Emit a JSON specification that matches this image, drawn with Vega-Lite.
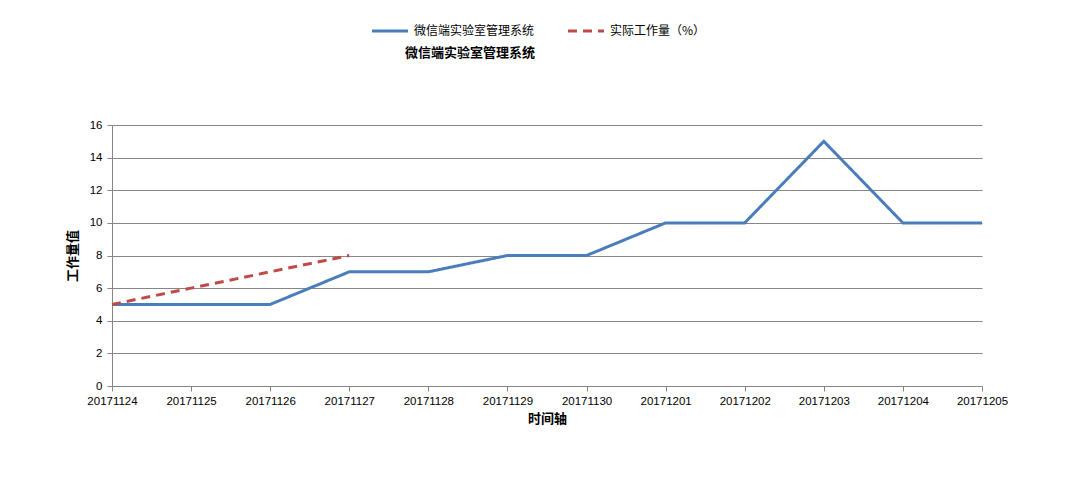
{
  "$schema": "https://vega.github.io/schema/vega-lite/v6.json",
  "autosize": {"type": "none"},
  "width": 870,
  "height": 261,
  "padding": {"left": 112, "top": 125, "right": 95, "bottom": 105},
  "background": "white",
  "title": {
    "text": "微信端实验室管理系统",
    "font": "Noto Sans CJK SC",
    "fontSize": 13,
    "fontWeight": "bold",
    "color": "#000000",
    "anchor": "middle",
    "dx": -77,
    "offset": -49
  },
  "data": {
    "values": [
      {"date": "20171124", "series": "微信端实验室管理系统", "value": 5},
      {"date": "20171125", "series": "微信端实验室管理系统", "value": 5},
      {"date": "20171126", "series": "微信端实验室管理系统", "value": 5},
      {"date": "20171127", "series": "微信端实验室管理系统", "value": 7},
      {"date": "20171128", "series": "微信端实验室管理系统", "value": 7},
      {"date": "20171129", "series": "微信端实验室管理系统", "value": 8},
      {"date": "20171130", "series": "微信端实验室管理系统", "value": 8},
      {"date": "20171201", "series": "微信端实验室管理系统", "value": 10},
      {"date": "20171202", "series": "微信端实验室管理系统", "value": 10},
      {"date": "20171203", "series": "微信端实验室管理系统", "value": 15},
      {"date": "20171204", "series": "微信端实验室管理系统", "value": 10},
      {"date": "20171205", "series": "微信端实验室管理系统", "value": 10},
      {"date": "20171124", "series": "实际工作量（%）", "value": 5},
      {"date": "20171125", "series": "实际工作量（%）", "value": 6},
      {"date": "20171126", "series": "实际工作量（%）", "value": 7},
      {"date": "20171127", "series": "实际工作量（%）", "value": 8}
    ]
  },
  "mark": {"type": "line", "strokeWidth": 3, "strokeCap": "butt"},
  "encoding": {
    "x": {
      "field": "date",
      "type": "ordinal",
      "scale": {"type": "point", "padding": 0},
      "axis": {
        "title": "时间轴",
        "titleFont": "Noto Sans CJK SC",
        "titleFontSize": 13,
        "titleFontWeight": "bold",
        "titleColor": "#000000",
        "titlePadding": 6,
        "labelAngle": 0,
        "labelFont": "Liberation Sans",
        "labelFontSize": 11.5,
        "labelColor": "#000000",
        "labelPadding": 4,
        "domainColor": "#868686",
        "tickColor": "#868686",
        "tickSize": 5,
        "grid": false
      }
    },
    "y": {
      "field": "value",
      "type": "quantitative",
      "scale": {"domain": [0, 16], "nice": false},
      "axis": {
        "values": [0, 2, 4, 6, 8, 10, 12, 14, 16],
        "title": "工作量值",
        "titleFont": "Noto Sans CJK SC",
        "titleFontSize": 13,
        "titleFontWeight": "bold",
        "titleColor": "#000000",
        "titlePadding": 10,
        "labelFont": "Liberation Sans",
        "labelFontSize": 11.5,
        "labelColor": "#000000",
        "labelPadding": 5,
        "domainColor": "#868686",
        "tickColor": "#868686",
        "tickSize": 5,
        "grid": true,
        "gridColor": "#878787",
        "gridWidth": 1
      }
    },
    "color": {
      "field": "series",
      "type": "nominal",
      "scale": {
        "domain": ["微信端实验室管理系统", "实际工作量（%）"],
        "range": ["#4A7EBB", "#BE4B48"]
      },
      "legend": {
        "title": null,
        "orient": "none",
        "direction": "horizontal",
        "legendX": 258,
        "legendY": -114,
        "symbolType": "stroke",
        "symbolSize": 1300,
        "symbolStrokeWidth": 3,
        "labelFont": "Noto Sans CJK SC",
        "labelFontSize": 12,
        "labelColor": "#000000",
        "columnPadding": 26,
        "labelOffset": 4
      }
    },
    "strokeDash": {
      "field": "series",
      "type": "nominal",
      "scale": {
        "domain": ["微信端实验室管理系统", "实际工作量（%）"],
        "range": [[1, 0], [9, 6]]
      }
    }
  },
  "config": {
    "view": {"stroke": null}
  }
}
